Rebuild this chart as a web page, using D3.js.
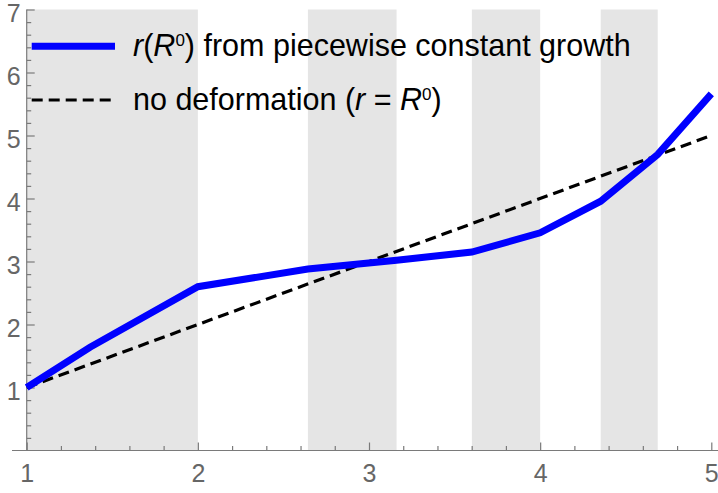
<!DOCTYPE html>
<html>
<head>
<meta charset="utf-8">
<script src="https://cdn.jsdelivr.net/npm/d3@7"></script>
<style>
  body { margin: 0; background: #fff; }
  text { font-family: "Liberation Sans", Arial, sans-serif; }
</style>
</head>
<body>
<div id="chart"></div>
<script>
// chart data
var bandStarts = [1, 2.643, 3.601, 4.354];
var bandEnds = [2, 3.161, 4.0, 4.687];

var growthR0 = [1, 1.37, 2, 2.643, 3.161, 3.601, 4, 4.354, 4.687, 5];
var growthR = [1, 1.64, 2.6, 2.88, 3.02, 3.15, 3.455, 3.957, 4.70, 5.66];

var identityR0 = [1, 5];
var identityR = [1, 5];

var xTicks = [1, 2, 3, 4, 5];
var yTicks = [1, 2, 3, 4, 5, 6, 7];

var svgWidth = 718;
var svgHeight = 493;

var svg = d3.select("#chart")
  .append("svg")
  .attr("width", svgWidth)
  .attr("height", svgHeight);

// scales
var xScale = d3.scaleLinear()
  .domain([1, 5])
  .range([26.7, 711.3]);

var yScale = d3.scaleLinear()
  .domain([0, 7])
  .range([450.5, 9.5]);

// shaded bands
svg.append("g")
  .selectAll("rect")
  .data(bandStarts)
  .enter()
  .append("rect")
  .attr("x", (d, i) => xScale(d))
  .attr("width", (d, i) => xScale(bandEnds[i]) - xScale(d))
  .attr("y", yScale(7))
  .attr("height", yScale(0) - yScale(7))
  .attr("fill", "#e5e5e5");

// minor ticks
var minorX = d3.range(1.2, 5, 0.2).filter(v => Math.abs(v - Math.round(v)) > 0.01);
var minorY = d3.range(0.2, 7, 0.2).filter(v => Math.abs(v - Math.round(v)) > 0.01);

var xAxisG = svg.append("g")
  .attr("transform", `translate(0, ${yScale(0)})`);

xAxisG.append("g")
  .call(d3.axisBottom(xScale).tickValues(minorX).tickSize(-4.5).tickFormat(""))
  .call(g => g.select(".domain").remove());

xAxisG.append("g")
  .call(d3.axisBottom(xScale).tickValues(xTicks).tickSize(-8).tickPadding(14).tickFormat(d3.format("d")))
  .call(g => g.select(".domain").remove());

xAxisG.append("line")
  .attr("x1", 12)
  .attr("x2", svgWidth)
  .attr("stroke", "#7a7a7a")
  .attr("stroke-width", 1.2);

var yAxisG = svg.append("g")
  .attr("transform", `translate(${xScale(1)}, 0)`);

yAxisG.append("g")
  .call(d3.axisLeft(yScale).tickValues(minorY).tickSize(-4.5).tickFormat(""))
  .call(g => g.select(".domain").remove());

yAxisG.append("g")
  .attr("class", "major-y")
  .call(d3.axisLeft(yScale).tickValues(yTicks).tickSize(-8).tickPadding(6).tickFormat(d3.format("d")))
  .call(g => g.select(".domain").remove());

yAxisG.append("line")
  .attr("y1", yScale(7))
  .attr("y2", yScale(0))
  .attr("stroke", "#7a7a7a")
  .attr("stroke-width", 1.2);

svg.selectAll(".tick line").attr("stroke", "#7a7a7a").attr("stroke-width", 1.2);
svg.selectAll(".tick text")
  .attr("fill", "#666")
  .style("font-size", "25px")
  .style("font-family", "'Liberation Sans', Arial, sans-serif");

// y labels sit a little below their ticks
svg.selectAll(".major-y .tick text").attr("dy", "0.46em");

// lines
var line = d3.line()
  .x(d => xScale(d[0]))
  .y(d => yScale(d[1]));

svg.append("path")
  .datum(identityR0.map((d, i) => [d, identityR[i]]))
  .attr("d", line)
  .attr("fill", "none")
  .attr("stroke", "#000")
  .attr("stroke-width", 3.2)
  .attr("stroke-dasharray", "11,6");

svg.append("path")
  .datum(growthR0.map((d, i) => [d, growthR[i]]))
  .attr("d", line)
  .attr("fill", "none")
  .attr("stroke", "#0000ff")
  .attr("stroke-width", 7);

// legend
var legend = svg.append("g");

legend.append("line")
  .attr("x1", 31.7).attr("x2", 115)
  .attr("y1", 46.3).attr("y2", 46.3)
  .attr("stroke", "#0000ff")
  .attr("stroke-width", 7);

legend.append("line")
  .attr("x1", 31.7).attr("x2", 111)
  .attr("y1", 100).attr("y2", 100)
  .attr("stroke", "#000")
  .attr("stroke-width", 3.2)
  .attr("stroke-dasharray", "11,6");

var t1 = legend.append("text")
  .attr("x", 133)
  .attr("y", 56)
  .style("font-size", "30.5px")
  .attr("fill", "#000");
t1.append("tspan").style("font-style", "italic").text("r");
t1.append("tspan").text("(");
t1.append("tspan").style("font-style", "italic").text("R");
t1.append("tspan").attr("dy", -10).style("font-size", "17px").text("0");
t1.append("tspan").attr("dy", 10).text(") from piecewise constant growth");

var t2 = legend.append("text")
  .attr("x", 133)
  .attr("y", 109.5)
  .style("font-size", "30.5px")
  .attr("fill", "#000");
t2.append("tspan").text("no deformation (");
t2.append("tspan").style("font-style", "italic").text("r");
t2.append("tspan").text(" = ");
t2.append("tspan").style("font-style", "italic").text("R");
t2.append("tspan").attr("dy", -10).style("font-size", "17px").text("0");
t2.append("tspan").attr("dy", 10).text(")");
</script>
</body>
</html>
